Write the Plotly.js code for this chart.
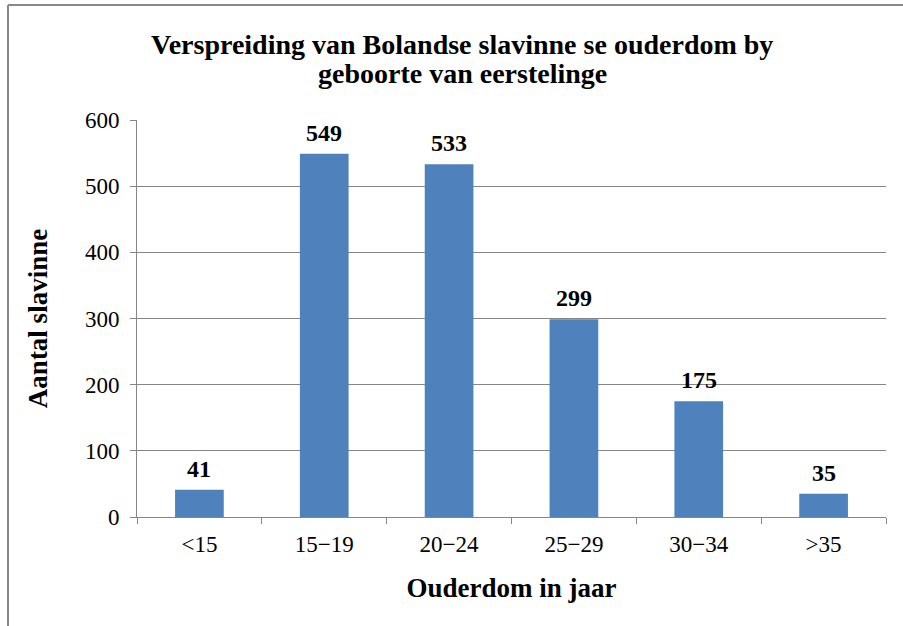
<!DOCTYPE html>
<html>
<head>
<meta charset="utf-8">
<script src="https://cdn.plot.ly/plotly-3.0.1.min.js"></script>
<style>
  body { margin: 0; background: #fff; }
  #myDiv { width: 903px; height: 626px; }
</style>
</head>
<body>
<div id="myDiv"></div>
<script>
var titleLines = ['Verspreiding van Bolandse slavinne se ouderdom by', 'geboorte van eerstelinge'];
var categories = ['<15', '15\u221219', '20\u221224', '25\u221229', '30\u221234', '>35'];
var counts = [41, 549, 533, 299, 175, 35];

var serif = '"Liberation Serif", "Times New Roman", serif';

// plot area in pixels, used to place the outer frame and title lines
var L = 137, R = 17, T = 120, B = 109, W = 903, H = 626;
var pw = W - L - R, ph = H - T - B;
function px(x) { return (x - L) / pw; }
function py(y) { return (H - B - y) / ph; }

var trace = {
  x: categories,
  y: counts,
  type: 'bar',
  marker: { color: '#4F81BD' },
  hoverinfo: 'x+y'
};

// value labels above the bars
var annotations = categories.map(function (c, i) {
  return {
    x: c, y: counts[i], xref: 'x', yref: 'y',
    text: String(counts[i]), showarrow: false,
    yanchor: 'bottom', yshift: 6,
    font: { family: serif, size: 24, weight: 'bold', color: '#000' }
  };
});

// chart title, two lines set close together
var titleY = [44, 73];
titleLines.forEach(function (t, i) {
  annotations.push({
    x: px(462), y: py(titleY[i]), xref: 'paper', yref: 'paper',
    text: t, showarrow: false, xanchor: 'center', yanchor: 'middle',
    font: { family: serif, size: 28, weight: 'bold', color: '#000' }
  });
});

var layout = {
  width: W,
  height: H,
  margin: { l: L, r: R, t: T, b: B },
  paper_bgcolor: '#fff',
  plot_bgcolor: '#fff',
  bargap: 0.61,
  showlegend: false,
  font: { family: serif, color: '#000' },
  xaxis: {
    type: 'category',
    showline: true, linecolor: '#868686', linewidth: 1,
    ticks: 'outside', tickson: 'boundaries', ticklen: 6, tickcolor: '#868686',
    ticklabelstandoff: 6,
    tickfont: { family: serif, size: 23, color: '#000' },
    showgrid: false,
    title: { text: 'Ouderdom in jaar', standoff: 22,
             font: { family: serif, size: 27, weight: 'bold', color: '#000' } }
  },
  yaxis: {
    range: [0, 600],
    dtick: 100,
    showline: true, linecolor: '#868686', linewidth: 1,
    ticks: 'outside', ticklen: 6, tickcolor: '#868686',
    ticklabelstandoff: 6,
    showgrid: true, gridcolor: '#868686', gridwidth: 1,
    zeroline: false,
    tickfont: { family: serif, size: 23, color: '#000' },
    title: { text: 'Aantal slavinne', standoff: 29,
             font: { family: serif, size: 27, weight: 'bold', color: '#000' } }
  },
  annotations: annotations,
  shapes: [
    { type: 'line', xref: 'paper', yref: 'paper',
      x0: px(8), x1: px(W), y0: py(5), y1: py(5),
      line: { color: '#888', width: 2 } },
    { type: 'line', xref: 'paper', yref: 'paper',
      x0: px(8), x1: px(8), y0: py(5), y1: py(H),
      line: { color: '#888', width: 2 } }
  ]
};

Plotly.newPlot('myDiv', [trace], layout, { displayModeBar: false, staticPlot: true });
</script>
</body>
</html>
